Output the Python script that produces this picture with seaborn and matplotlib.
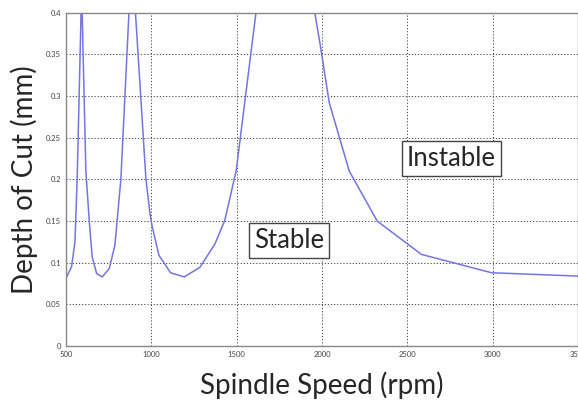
import matplotlib
matplotlib.use("Agg")
import matplotlib.pyplot as plt
from matplotlib.ticker import FormatStrFormatter
import seaborn as sns
import pandas as pd

# Stability lobe diagram
spindle_rpm = [504, 533, 553, 566, 587, 592, 617, 637, 654, 680, 713, 754, 787,
               822, 886, 969, 992, 1004, 1045, 1113, 1193, 1285, 1373, 1431, 1498,
               1760, 1988, 2043, 2160, 2324, 2583, 2994, 3500]
depth_mm = [0.083, 0.095, 0.125, 0.200, 0.382, 0.430, 0.210, 0.150, 0.107, 0.087,
            0.083, 0.093, 0.121, 0.200, 0.470, 0.200, 0.160, 0.145, 0.109, 0.088,
            0.083, 0.0945, 0.1225, 0.151, 0.211, 0.640, 0.364, 0.292, 0.210,
            0.150, 0.110, 0.088, 0.084]
x_ticks = [500, 1000, 1500, 2000, 2500, 3000, 3500]
y_ticks = [0, 0.05, 0.1, 0.15, 0.2, 0.25, 0.3, 0.35, 0.4]

df = pd.DataFrame({"rpm": spindle_rpm, "depth": depth_mm})

sns.set_style("white")
plt.rcParams["font.family"] = ["Lato", "DejaVu Sans"]

fig = plt.figure(figsize=(5.78, 4.01), dpi=100)
ax = fig.add_axes([0.114, 0.137, 0.886, 0.831])

sns.lineplot(data=df, x="rpm", y="depth", sort=False, color="#7474e4", lw=1.1, ax=ax)

ax.set_xlim(500, 3500)
ax.set_ylim(0, 0.4)
ax.set_xticks(x_ticks)
ax.set_yticks(y_ticks)
ax.yaxis.set_major_formatter(FormatStrFormatter("%g"))
ax.tick_params(labelsize=5.5, labelcolor="#444444", length=3, direction="in", color="#777777")
ax.grid(True, linestyle=(0, (1.2, 2)), color="#444444", linewidth=0.7)
for s in ax.spines.values():
    s.set_color("#888888")
    s.set_linewidth(1)

ax.set_xlabel("Spindle Speed (rpm)", fontsize=20, labelpad=10)
ax.set_ylabel("Depth of Cut (mm)", fontsize=20, labelpad=6)

box = dict(boxstyle="square,pad=0.2", fc="white", ec="#444444", lw=1)
ax.text(2497, 0.225, "Instable", fontsize=18.5, ha="left", va="center", bbox=box)
ax.text(1600, 0.127, "Stable", fontsize=18.5, ha="left", va="center", bbox=box)

fig.savefig("out.png", dpi=100)
